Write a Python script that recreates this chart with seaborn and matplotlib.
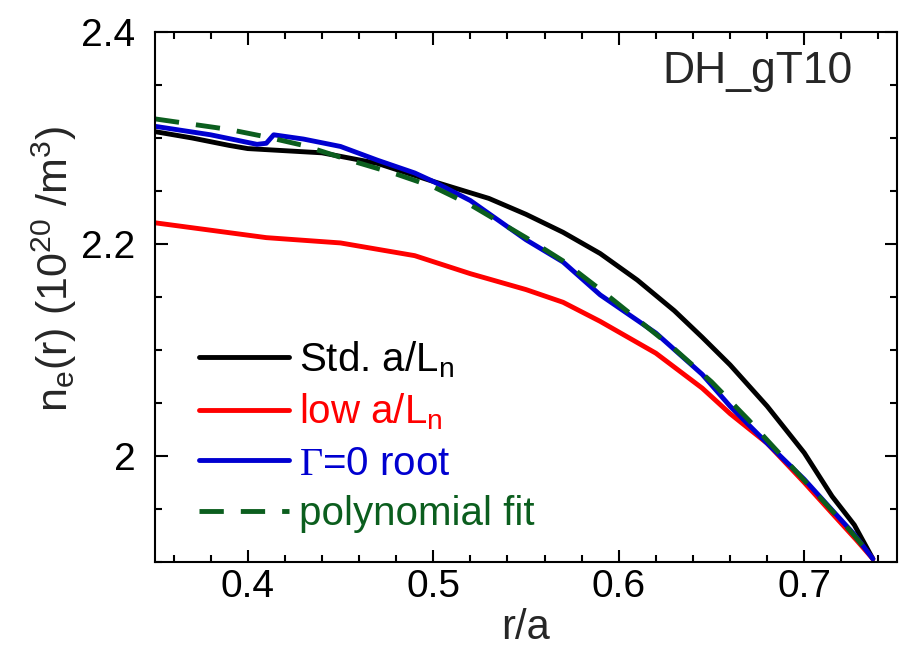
import matplotlib
matplotlib.use("Agg")
import matplotlib.pyplot as plt
from matplotlib.ticker import MultipleLocator, FuncFormatter
import seaborn as sns
import pandas as pd

# Std. a/L_n profile
std_r = [0.35, 0.37, 0.39, 0.40, 0.42, 0.44, 0.47, 0.50, 0.53, 0.55, 0.57,
         0.59, 0.61, 0.63, 0.645, 0.66, 0.68, 0.70, 0.715, 0.727, 0.737]
std_n = [2.306, 2.300, 2.293, 2.290, 2.288, 2.286, 2.276, 2.259, 2.243, 2.228, 2.211,
         2.191, 2.166, 2.137, 2.112, 2.086, 2.047, 2.003, 1.962, 1.935, 1.903]

# low a/L_n profile
low_r = [0.35, 0.38, 0.41, 0.45, 0.49, 0.52, 0.55, 0.57, 0.59, 0.62, 0.645,
         0.66, 0.68, 0.70, 0.715, 0.728, 0.737]
low_n = [2.220, 2.213, 2.206, 2.201, 2.189, 2.172, 2.157, 2.145, 2.127, 2.097, 2.064,
         2.040, 2.012, 1.975, 1.946, 1.921, 1.903]

# Gamma=0 root profile
root_r = [0.35, 0.38, 0.405, 0.41, 0.414, 0.43, 0.45, 0.47, 0.49, 0.50, 0.52, 0.55,
          0.57, 0.59, 0.61, 0.62, 0.645, 0.66, 0.68, 0.70, 0.715, 0.727, 0.737]
root_n = [2.311, 2.303, 2.294, 2.295, 2.303, 2.299, 2.292, 2.279, 2.267, 2.259, 2.241, 2.204,
          2.183, 2.152, 2.128, 2.116, 2.077, 2.047, 2.012, 1.978, 1.949, 1.926, 1.903]

# polynomial fit
fit_r = [0.35, 0.37, 0.39, 0.41, 0.43, 0.455, 0.48, 0.50, 0.52, 0.55, 0.57, 0.59,
         0.61, 0.63, 0.65, 0.67, 0.69, 0.71, 0.725, 0.737]
fit_n = [2.318, 2.313, 2.308, 2.301, 2.293, 2.279, 2.266, 2.254, 2.237, 2.206, 2.184, 2.157,
         2.129, 2.101, 2.070, 2.034, 1.996, 1.958, 1.929, 1.904]

x_ticks = [0.4, 0.5, 0.6, 0.7]
y_ticks = [2.0, 2.2, 2.4]

sns.set_theme(style="ticks")
plt.rcParams["font.family"] = ["Liberation Sans", "DejaVu Sans"]
plt.rcParams["mathtext.fontset"] = "custom"
plt.rcParams["mathtext.rm"] = "Liberation Sans"
plt.rcParams["mathtext.it"] = "Liberation Sans"
plt.rcParams["mathtext.cal"] = "Liberation Serif"
plt.rcParams["mathtext.default"] = "regular"

series = [
    ("Std. a/L$_n$", std_r, std_n, "black", "-"),
    ("low a/L$_n$", low_r, low_n, "#ff0000", "-"),
    (r"$\mathcal{\Gamma}$=0 root", root_r, root_n, "#0000d0", "-"),
    ("polynomial fit", fit_r, fit_n, "#0b5e1e", (0, (5, 3.5))),
]

fig = plt.figure(figsize=(9.09, 6.46), dpi=100)
ax = fig.add_axes([0.1705, 0.130, 0.8163, 0.8205])

for label, r, n, color, ls in series:
    df = pd.DataFrame({"r": r, "n": n})
    sns.lineplot(data=df, x="r", y="n", ax=ax, color=color, linestyle=ls,
                 linewidth=3.5, label=label, legend=False)

ax.set_xlim(0.35, 0.75)
ax.set_ylim(1.9, 2.4)
ax.xaxis.set_major_locator(MultipleLocator(0.1))
ax.xaxis.set_minor_locator(MultipleLocator(0.02))
ax.yaxis.set_major_locator(MultipleLocator(0.2))
ax.yaxis.set_minor_locator(MultipleLocator(0.05))
ax.set_xticks(x_ticks)
ax.set_yticks(y_ticks)
ax.yaxis.set_major_formatter(FuncFormatter(lambda v, p: "%g" % round(v, 3)))
ax.tick_params(which="both", direction="in", top=True, right=True, width=1.5,
               labelsize=28, colors="black")
ax.tick_params(which="major", length=9, pad=5)
ax.tick_params(axis="y", which="major", pad=14)
ax.tick_params(which="minor", length=5)
for s in ax.spines.values():
    s.set_linewidth(1.5)
    s.set_color("black")

ax.set_xlabel("r/a", fontsize=30, labelpad=2)
ax.set_ylabel("n$_e$(r) (10$^{20}$ /m$^3$)", fontsize=31)
ax.yaxis.set_label_coords(-0.102, 0.553)

ax.text(0.9407, 0.9245, "DH_gT10", transform=ax.transAxes, ha="right", va="center",
        fontsize=32)

handles, labels = ax.get_legend_handles_labels()
ax.legend(handles, labels, loc="lower left", bbox_to_anchor=(0.01, -0.013),
          frameon=False, fontsize=29, labelcolor="linecolor",
          handlelength=2.25, handletextpad=0.25, labelspacing=0.3,
          borderaxespad=0.5)

fig.savefig("out.png", dpi=100)
